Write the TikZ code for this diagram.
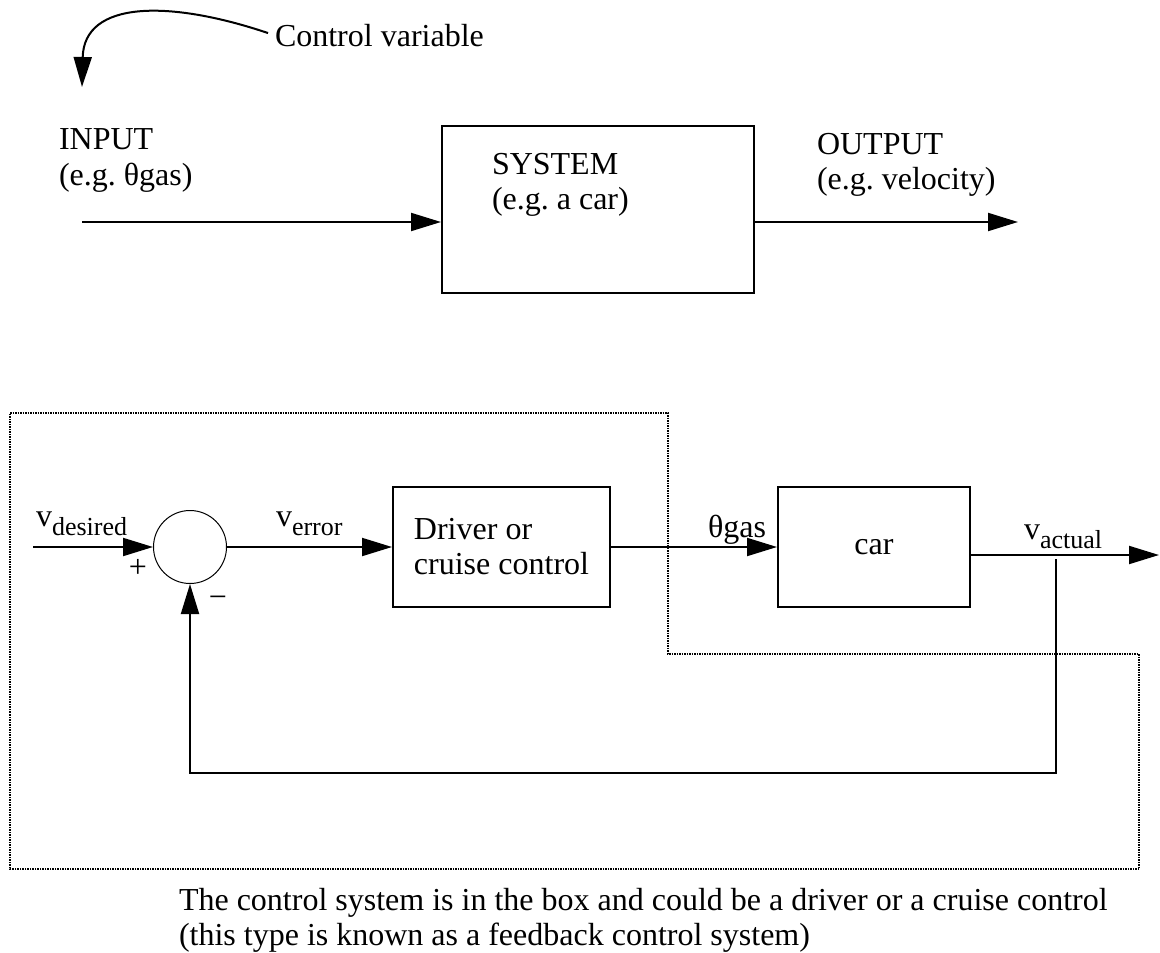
\documentclass[tikz,border=0pt]{standalone}
\usepackage{fontspec}
\setmainfont{Liberation Serif}
\usetikzlibrary{positioning,arrows.meta}
\frenchspacing
\newcommand{\vsub}[1]{v\raisebox{-4.5pt}{\fontsize{13}{15}\selectfont #1}}

\begin{document}
\begin{tikzpicture}[x=0.5pt,y=-0.5pt,line width=1pt,>={Triangle[length=15pt,width=9pt]},font=\fontsize{16}{17.5}\selectfont]
  \tikzstyle{block}=[draw,line width=1pt,inner sep=0pt]
  \tikzstyle{lbl}=[inner sep=0pt,align=left,anchor=base west]
  \tikzstyle{small}=[inner sep=0pt,font=\fontsize{16}{17}\selectfont]
  \useasboundingbox (0,0) rectangle (1160,952);

  % open loop
  \node[block,minimum width=156pt,minimum height=83.5pt] (sys) at (598,209.5) {};
  \node[lbl] (systxt) at (491,210) {SYSTEM\\(e.g. a car)};
  \node[lbl] (inlab) at (58,185) {INPUT\\(e.g. θgas)};
  \node[lbl] (outlab) at (816,190) {OUTPUT\\(e.g. velocity)};
  \node[lbl] (cv) at (274,47) {Control variable};
  \coordinate (cvtip) at (82,87);
  \coordinate (in0) at (82,222);
  \coordinate (out0) at (1018,222);
  \draw[->] ([shift={(-6,-3)}]cv.west) .. controls (170,0) and (84,0) .. (cvtip);
  \draw[->] (in0) -- (in0 -| sys.west);
  \draw[->] (out0 -| sys.east) -- (out0);

  % feedback loop
  \draw[line width=0.6pt,dash pattern=on 0.75pt off 0.5pt] (10,413) -- (668,413) -- (668,654) -- (1139,654) -- (1139,869) -- (10,869) -- cycle;
  \node[circle,draw,line width=0.5pt,minimum size=36.5pt,inner sep=0pt] (sum) at (190,547) {};
  \node[block,align=left,minimum width=108.5pt,minimum height=60pt] (drv) at (501.5,547) {Driver or\\cruise control};
  \node[block,minimum width=96pt,minimum height=60pt] (car) at (874,547) {car};
  \coordinate (vd) at (33,547);
  \coordinate (vo) at (1159,555);
  \coordinate (fb) at (1056,559);
  \coordinate (fbc) at (1056,773);
  \draw[->] (vd) -- (sum.west);
  \draw[->] (sum.east) -- (drv.west);
  \draw[->] (drv.east) -- (car.west);
  \draw[->] (car.east |- vo) -- (vo);
  \draw[->] (fb) -- (fbc) -| (sum.south);
  \node[lbl] at (35,526) {\vsub{desired}};
  \node[lbl] at (275,526) {\vsub{error}};
  \node[lbl] at (707,537) {θgas};
  \node[lbl] at (1023,539) {\vsub{actual}};
  \node[small] at (138,568) {+};
  \node[small] at (218,602) {−};

  \node[lbl] (cap) at (178,945) {The control system is in the box and could be a driver or a cruise control\\(this type is known as a feedback control system)};
\end{tikzpicture}
\end{document}
